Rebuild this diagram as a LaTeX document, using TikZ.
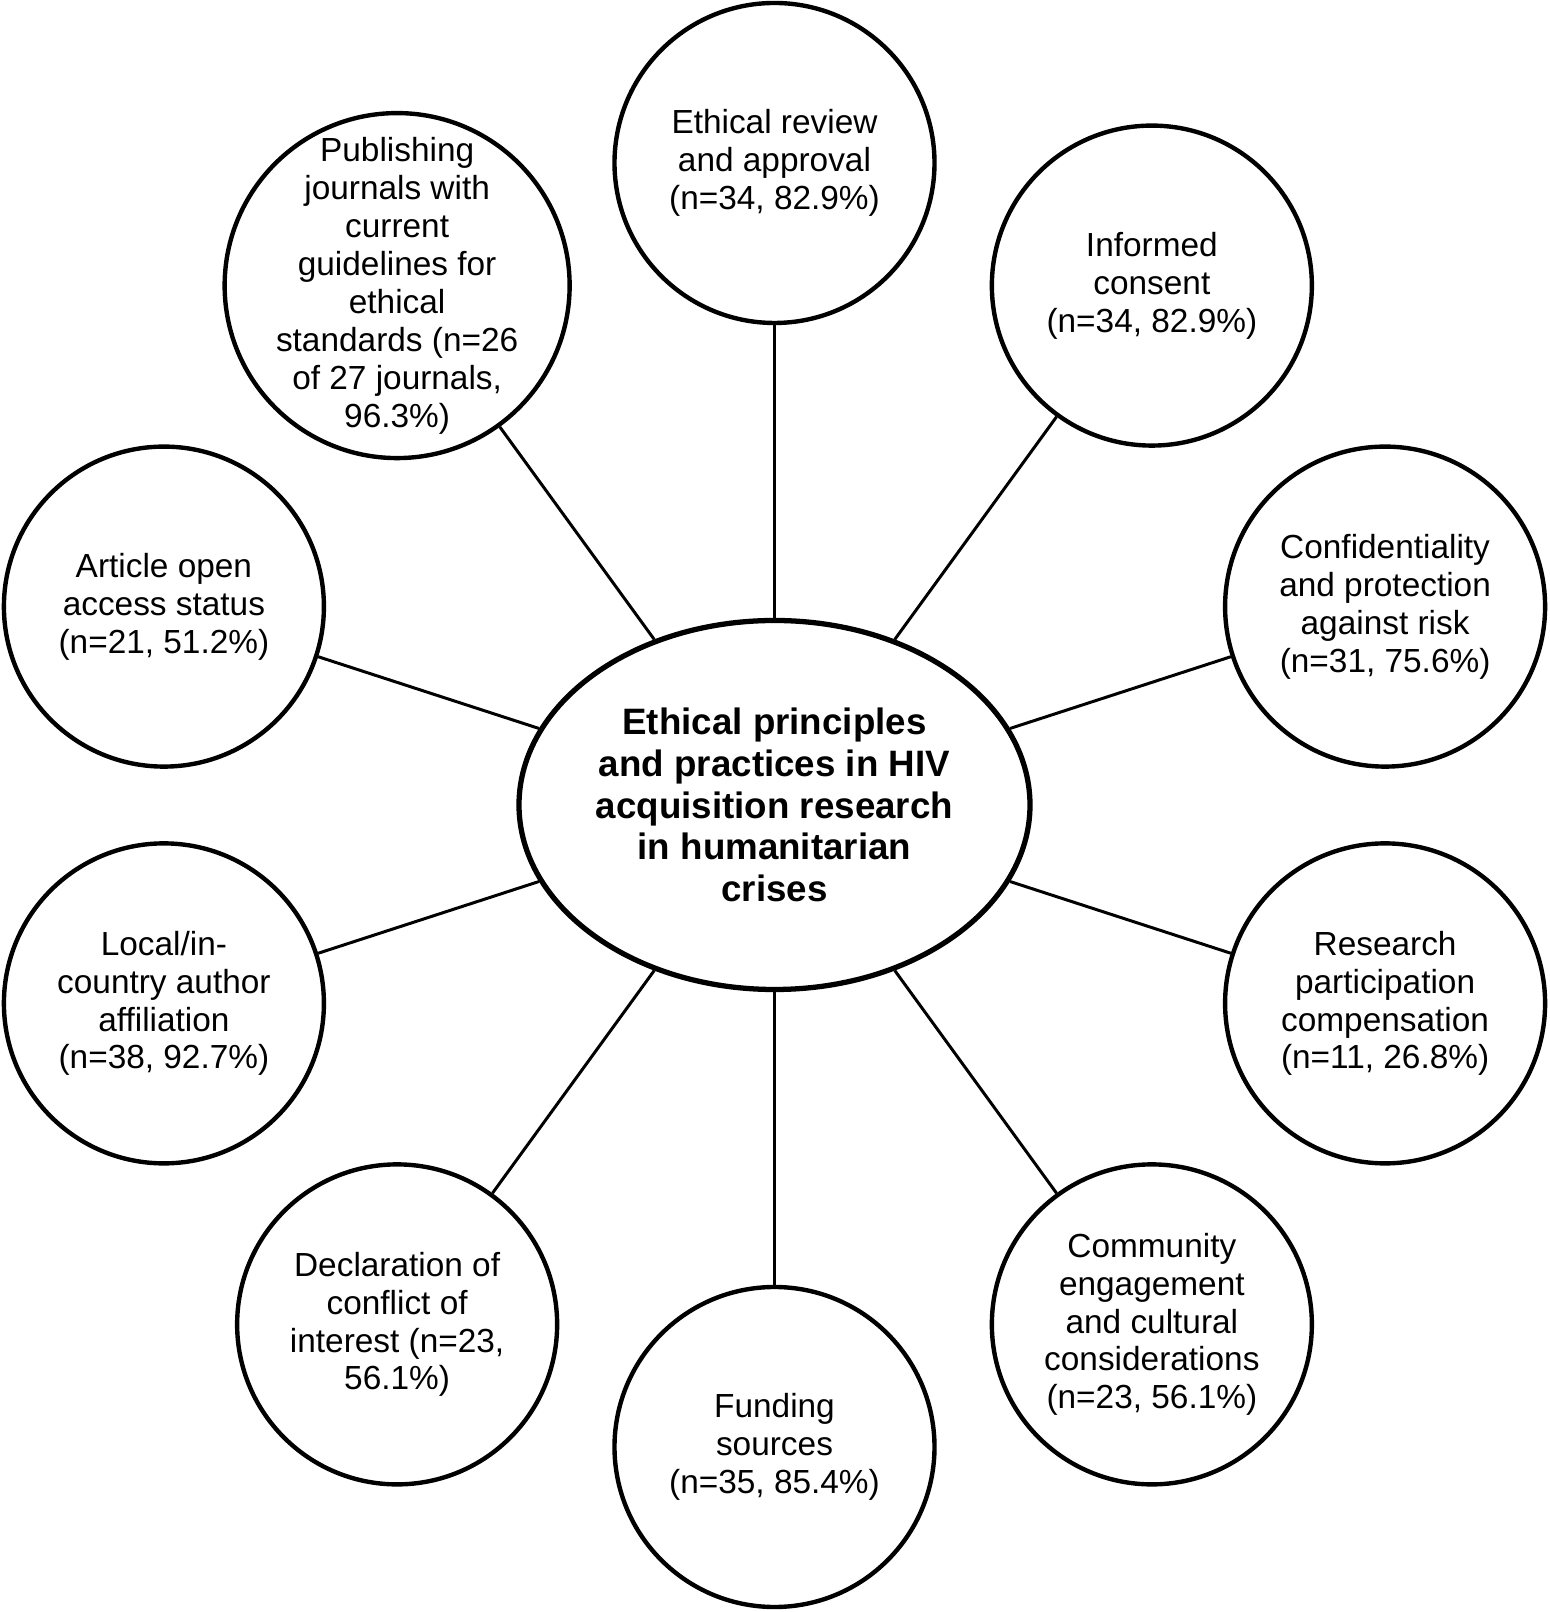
\documentclass[tikz,border=0pt]{standalone}
\usepackage{fontspec}
\setmainfont{Liberation Sans}
\usepackage{tikz}
\usetikzlibrary{
    shapes.geometric,
    positioning
}

\begin{document}
\begin{tikzpicture}[
        topic/.style={circle, draw, line width=1.25pt, minimum size=3.2cm, inner sep=0pt,
            align=center, font=\fontsize{9.5}{10.8}\selectfont},
        hub/.style={ellipse, draw, line width=1.5pt, minimum width=5.11cm, minimum height=3.69cm,
            inner sep=0pt, align=center, font=\fontsize{10.45}{11.9}\selectfont\bfseries},
        spoke/.style={line width=0.85pt}
    ]
    \useasboundingbox (-7.745, -8.07) rectangle (7.745, 8.05);
    \node[hub] (centre) at (0, 0) {Ethical principles\\and practices in HIV\\acquisition research\\in humanitarian\\crises};
    \node[topic] (review) at (90:6.42) {Ethical review\\and approval\\(n=34, 82.9\%)};
    \node[topic] (consent) at (54:6.42) {Informed\\consent\\(n=34, 82.9\%)};
    \node[topic] (confid) at (18:6.42) {Confidentiality\\and protection\\against risk\\(n=31, 75.6\%)};
    \node[topic] (compens) at (-18:6.42) {Research\\participation\\compensation\\(n=11, 26.8\%)};
    \node[topic] (community) at (-54:6.42) {Community\\engagement\\and cultural\\considerations\\(n=23, 56.1\%)};
    \node[topic] (funding) at (-90:6.42) {Funding\\sources\\(n=35, 85.4\%)};
    \node[topic] (conflict) at (-126:6.42) {Declaration of\\conflict of\\interest (n=23,\\56.1\%)};
    \node[topic] (affil) at (-162:6.42) {Local/in-\\country author\\affiliation\\(n=38, 92.7\%)};
    \node[topic] (access) at (162:6.42) {Article open\\access status\\(n=21, 51.2\%)};
    \node[topic, minimum size=3.45cm, inner sep=-3mm] (journals) at (126:6.42) {Publishing\\journals with\\current\\guidelines for\\ethical\\standards (n=26\\of 27 journals,\\96.3\%)};
    \draw[spoke]
    (centre) edge (review)
    (centre) edge (consent)
    (centre) edge (confid)
    (centre) edge (compens)
    (centre) edge (community)
    (centre) edge (funding)
    (centre) edge (conflict)
    (centre) edge (affil)
    (centre) edge (access)
    (centre) edge (journals);
\end{tikzpicture}
\end{document}
